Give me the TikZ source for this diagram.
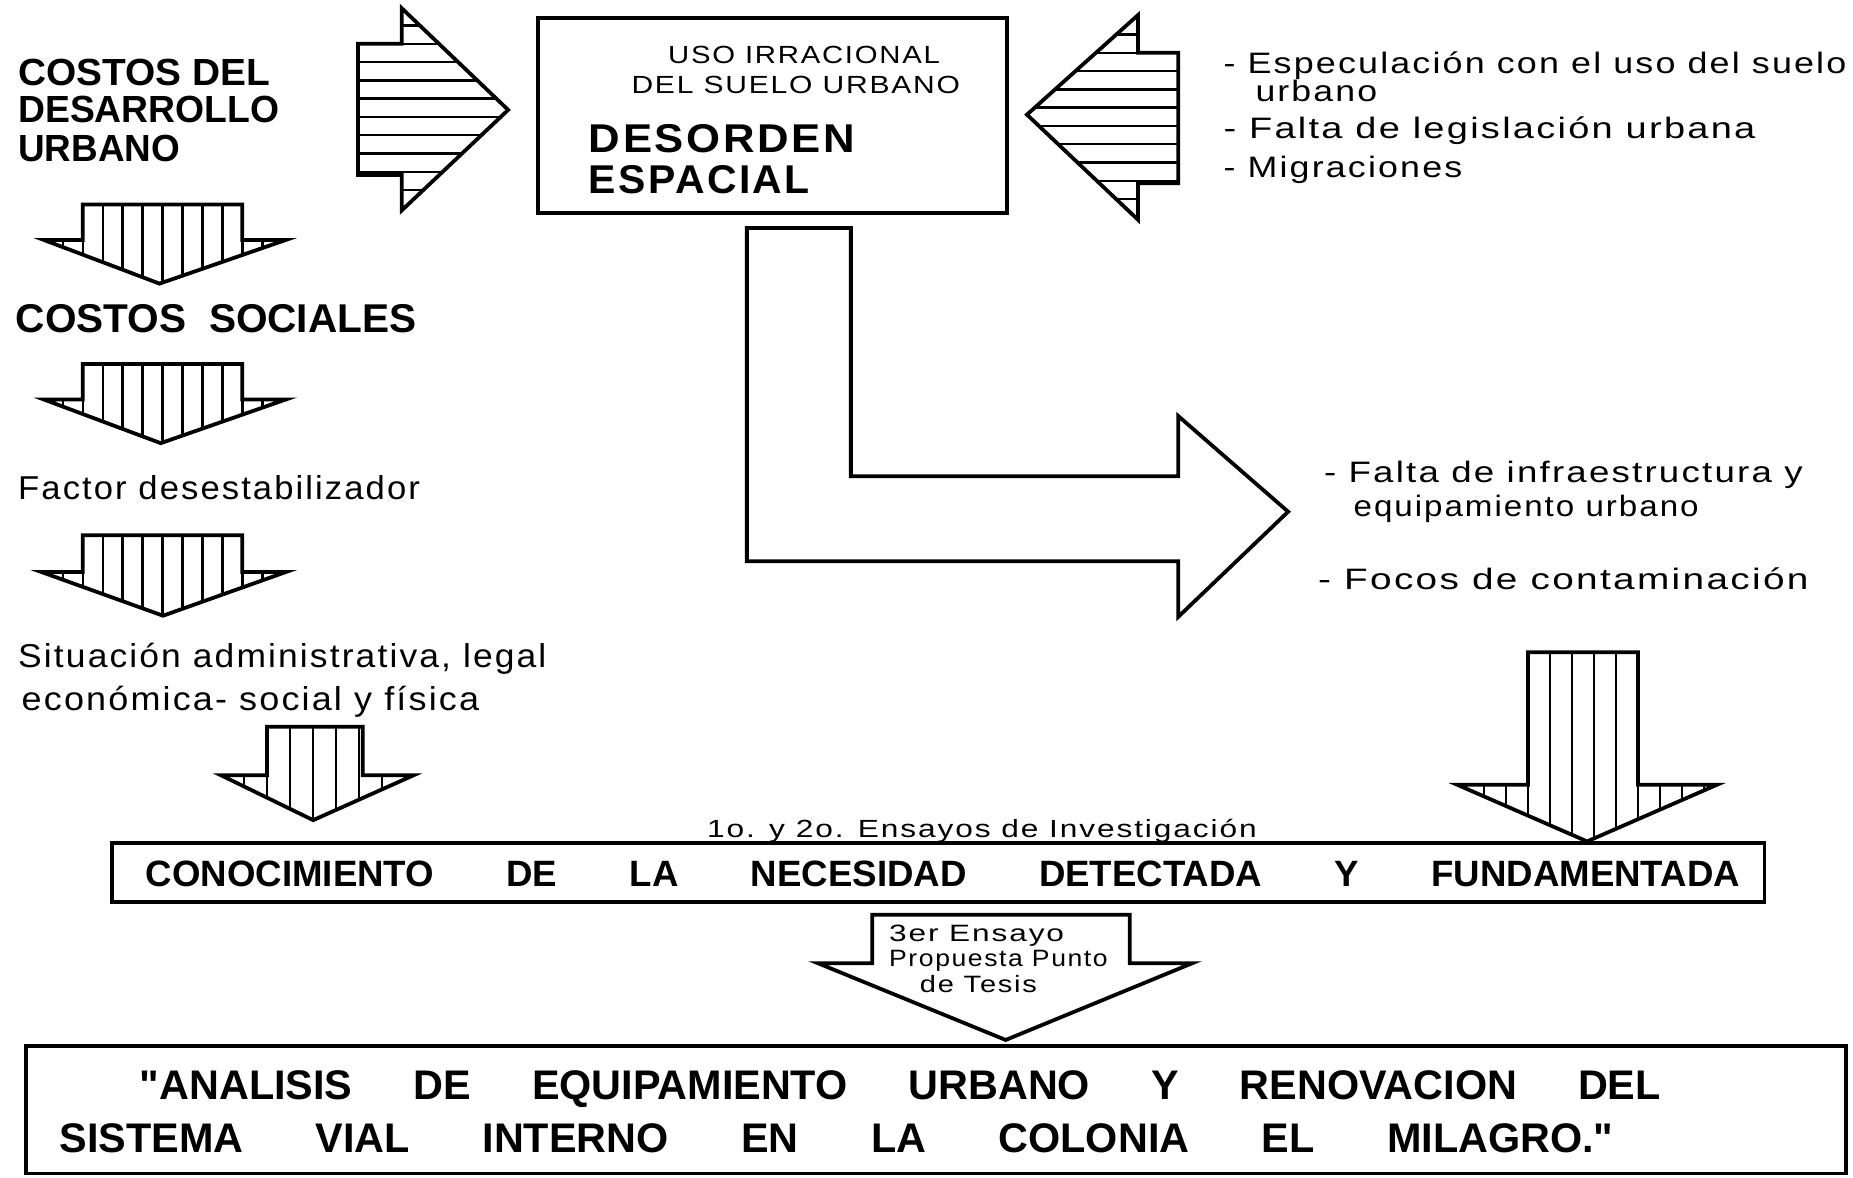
\documentclass[tikz,border=0pt]{standalone}
\usepackage{graphicx}
\usepackage{fontspec}
\setmainfont{Liberation Sans}
\newfontfamily\lsp{Liberation Sans}[LetterSpace=6]
\newfontfamily\qf{Liberation Sans}[Ligatures=TeXOff]
\newcommand\fs[1]{\fontsize{#1}{#1}\selectfont}
\newcommand\fit[2]{\resizebox{\dimexpr #1pt/2\relax}{\height}{#2}}
\newcommand\dq{{\qf\bfseries\char34}}
\tikzset{
  outl/.style={line width=1.6pt, line join=miter},
  hatchl/.style={line width=1pt},
  txt/.style={inner sep=0pt, anchor=base west},
}
% downward hatched arrow: bodyL bodyR headL headR top base tipx tipy step
\newcommand\DownArrow[9]{%
  \begin{scope}
    \clip (#1,#5) -- (#2,#5) -- (#2,#6) -- (#4,#6) -- (#7,#8) -- (#3,#6) -- (#1,#6) -- cycle;
    \foreach \k in {-6,...,14} {\draw[hatchl] ({#1+(\k)*#9},#5) -- ({#1+(\k)*#9},#8);}
  \end{scope}
  \draw[outl] (#1,#5) -- (#2,#5) -- (#2,#6) -- (#4,#6) -- (#7,#8) -- (#3,#6) -- (#1,#6) -- cycle;
}
% sideways hatched arrow: bodyend headbase tipx bodytop bodybot headtop headbot tipy step
\newcommand\SideArrow[9]{%
  \begin{scope}
    \clip (#1,#4) -- (#2,#4) -- (#2,#6) -- (#3,#8) -- (#2,#7) -- (#2,#5) -- (#1,#5) -- cycle;
    \foreach \k in {-3,...,10} {\draw[hatchl] (#1,{#4+(\k)*#9}) -- (#3,{#4+(\k)*#9});}
  \end{scope}
  \draw[outl] (#1,#4) -- (#2,#4) -- (#2,#6) -- (#3,#8) -- (#2,#7) -- (#2,#5) -- (#1,#5) -- cycle;
}
\begin{document}
\begin{tikzpicture}[x=0.5pt, y=-0.5pt]
\useasboundingbox (0,0) rectangle (1568,996);

% ---------- left column ----------
\node[txt] (c1) at (15,72)  {\fit{213}{\fs{16}\bfseries COSTOS DEL}};
\node[txt] (c2) at (15,104) {\fit{221}{\fs{16}\bfseries DESARROLLO}};
\node[txt] (c3) at (15,137) {\fit{137}{\fs{16}\bfseries URBANO}};

\DownArrow{70}{205}{37}{242}{173}{203}{135}{240}{16.9}

\node[txt] (cs) at (13,281) {\fit{339}{\fs{17}\bfseries COSTOS\ \ SOCIALES}};

\DownArrow{70}{205}{37}{242}{308}{338}{136}{375}{16.9}

\node[txt] (fd) at (15,423) {\fit{340}{\lsp\fs{14}Factor desestabilizador}};

\DownArrow{70}{205}{35}{242}{453}{484}{138}{521}{16.9}

\node[txt] (s1) at (15,565) {\fit{447}{\lsp\fs{14}Situación administrativa, legal}};
\node[txt] (s2) at (18,601) {\fit{387}{\lsp\fs{14}económica- social y física}};

\DownArrow{226}{307}{187}{350}{615}{656}{265}{694}{19.5}

% ---------- top centre ----------
\SideArrow{303}{340}{430}{37}{148}{7}{178}{93}{15.5}

\draw[outl] (455,15) rectangle (852,180);
\node[txt] (u1) at (565,54) {\fit{230}{\lsp\fs{10.5}USO IRRACIONAL}};
\node[txt] (u2) at (534,79) {\fit{278}{\lsp\fs{10.5}DEL SUELO URBANO}};
\node[txt] (d1) at (498,129) {\fit{225}{\lsp\fs{17}\bfseries DESORDEN}};
\node[txt] (d2) at (498,164) {\fit{187}{\lsp\fs{17}\bfseries ESPACIAL}};

\SideArrow{997}{963}{869}{44.6}{155}{12.7}{186}{97}{15.5}

\node[txt] (e1) at (1035,62)  {\fit{527}{\lsp\fs{12.5}- Especulación con el uso del suelo}};
\node[txt] (e2) at (1062,86)  {\fit{103}{\lsp\fs{12.5}urbano}};
\node[txt] (e3) at (1035,117) {\fit{450}{\lsp\fs{12.5}- Falta de legislación urbana}};
\node[txt] (e4) at (1035,150) {\fit{202}{\lsp\fs{12.5}- Migraciones}};

% ---------- L-shaped arrow ----------
\draw[outl] (632,193) -- (720,193) -- (720,403) -- (997,403) -- (997,352)
  -- (1090,433) -- (997,522) -- (997,475) -- (632,475) -- cycle;

\node[txt] (f1) at (1120,408) {\fit{405}{\lsp\fs{12.5}- Falta de infraestructura y}};
\node[txt] (f2) at (1145,437) {\fit{292}{\lsp\fs{12.5}equipamiento urbano}};
\node[txt] (f3) at (1115,499) {\fit{415}{\lsp\fs{12.5}- Focos de contaminación}};

\DownArrow{1293}{1386}{1233}{1453}{552}{664}{1343}{712}{18.6}

% ---------- conocimiento ----------
\node[txt] (ens) at (598,709) {\fit{465}{\lsp\fs{10.5}1o. y 2o. Ensayos de Investigación}};
\draw[outl] (95,713) rectangle (1493,763);
\node[txt] (con) at (123,750) {\makebox[\dimexpr 1349pt/2\relax][s]{\fs{15.5}\bfseries CONOCIMIENTO DE LA NECESIDAD DETECTADA Y FUNDAMENTADA}};

% ---------- 3er ensayo arrow ----------
\draw[outl] (738,774) -- (956,774) -- (956,815) -- (1009,815) -- (851,880)
  -- (692,815) -- (738,815) -- cycle;
\node[txt] (p1) at (752,797) {\fit{148}{\lsp\fs{10}3er Ensayo}};
\node[txt] (p2) at (752,818) {\fit{185}{\lsp\fs{10}Propuesta Punto}};
\node[txt] (p3) at (778,840) {\fit{99}{\lsp\fs{10}de Tesis}};

% ---------- final box ----------
\draw[outl] (22,885) rectangle (1562,993);
\node[txt] (b1) at (118,930) {\makebox[\dimexpr 1287pt/2\relax][s]{\fs{17.5}\bfseries \dq ANALISIS DE EQUIPAMIENTO URBANO Y RENOVACION DEL}};
\node[txt] (b2) at (50,975) {\makebox[\dimexpr 1315pt/2\relax][s]{\fs{17.5}\bfseries SISTEMA VIAL INTERNO EN LA COLONIA EL MILAGRO.\dq}};
\end{tikzpicture}
\end{document}
